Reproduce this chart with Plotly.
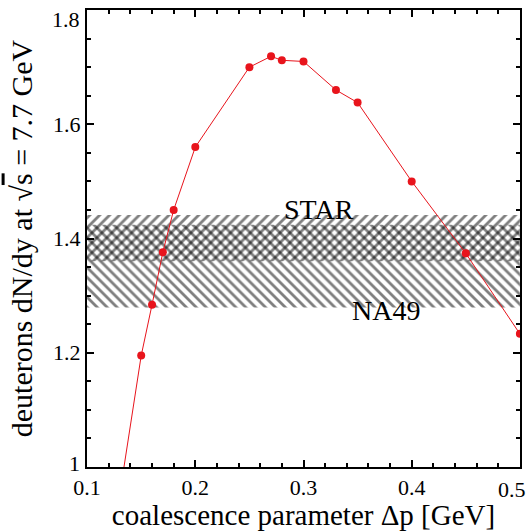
import plotly.graph_objects as go

dp = [0.13, 0.15, 0.16, 0.17, 0.18, 0.20, 0.25, 0.27, 0.28, 0.30, 0.33, 0.35, 0.40, 0.45, 0.50]
dndy = [0.95, 1.195, 1.284, 1.376, 1.45, 1.56, 1.70, 1.719, 1.712, 1.71, 1.66, 1.638, 1.50, 1.374, 1.233]

star_band = [1.36, 1.441]
na49_band = [1.279, 1.424]
x_range = [0.1, 0.5]
y_range = [1.0, 1.8]
x_ticks = [0.1, 0.2, 0.3, 0.4, 0.5]
x_ticklabels = ["0.1", "0.2", "0.3", "0.4", "0.5"]
y_ticks = [1.0, 1.2, 1.4, 1.6, 1.8]
y_ticklabels = ["1", "1.2", "1.4", "1.6", "1.8"]

FONT = "Liberation Serif, Times New Roman, serif"
TICKFONT = dict(family=FONT, size=22, color="black")

fig = go.Figure()

def band(lo, hi, shape):
    fig.add_trace(go.Scatter(
        x=[x_range[0], x_range[1], x_range[1], x_range[0], x_range[0]],
        y=[lo, lo, hi, hi, lo],
        mode="lines", line=dict(width=0), fill="toself",
        fillcolor="rgba(0,0,0,0)",
        fillpattern=dict(shape=shape, fgcolor="black", bgcolor="rgba(0,0,0,0)",
                         size=7, solidity=0.4, fillmode="overlay"),
        hoverinfo="skip", showlegend=False))

band(star_band[0], star_band[1], "/")
band(na49_band[0], na49_band[1], "\\")

fig.add_trace(go.Scatter(
    x=dp, y=dndy, mode="lines+markers",
    line=dict(color="#e8141c", width=1),
    marker=dict(color="#e8141c", size=8),
    showlegend=False, cliponaxis=True))

fig.add_annotation(x=0.3143, y=1.45, text="STAR", showarrow=False,
                   xanchor="center", yanchor="middle",
                   font=dict(family=FONT, size=28, color="black"))
fig.add_annotation(x=0.376, y=1.274, text="NA49", showarrow=False,
                   xanchor="center", yanchor="middle",
                   font=dict(family=FONT, size=28, color="black"))

# edge tick labels placed like the reference (nudged inside the page)
fig.add_annotation(xref="paper", x=0, y=y_ticks[-1], text=y_ticklabels[-1], showarrow=False,
                   xanchor="right", yanchor="middle", xshift=-5, yshift=-9, font=TICKFONT)
fig.add_annotation(xref="paper", x=0, y=y_ticks[0], text=y_ticklabels[0], showarrow=False,
                   xanchor="right", yanchor="middle", xshift=-5, yshift=3, font=TICKFONT)
fig.add_annotation(x=x_ticks[-1], yref="paper", y=0, text=x_ticklabels[-1], showarrow=False,
                   xanchor="right", yanchor="top", xshift=8, yshift=-8, font=TICKFONT)

axis_common = dict(showline=True, linewidth=2, linecolor="black", mirror="allticks",
                   ticks="inside", tickcolor="black", tickwidth=1.5, ticklen=7,
                   showgrid=False, zeroline=False, tickfont=TICKFONT)

fig.update_xaxes(range=[x_range[0] - 1e-4, x_range[1] + 1e-4],
                 tickvals=x_ticks,
                 ticktext=x_ticklabels[:-1] + [""],
                 minor=dict(dtick=0.02, tick0=0.1, ticks="inside", ticklen=4, tickcolor="black", tickwidth=1.5),
                 title=dict(text="coalescence parameter Δp [GeV]",
                            font=dict(family=FONT, size=29, color="black"), standoff=2),
                 **axis_common)
fig.update_yaxes(range=[y_range[0] - 1e-4, y_range[1] + 1e-4],
                 tickvals=y_ticks,
                 ticktext=[""] + y_ticklabels[1:-1] + [""],
                 ticklabelstandoff=0,
                 minor=dict(dtick=0.05, tick0=1.0, ticks="inside", ticklen=4, tickcolor="black", tickwidth=1.5),
                 title=dict(text="deuterons dN/dy at √<span style='text-decoration:overline'>s</span> = 7.7 GeV",
                            font=dict(family=FONT, size=30, color="black"), standoff=12),
                 **axis_common)

fig.update_layout(width=530, height=531, margin=dict(l=87, r=10, t=8, b=60),
                  plot_bgcolor="white", paper_bgcolor="white")

fig.write_html("out.html")
